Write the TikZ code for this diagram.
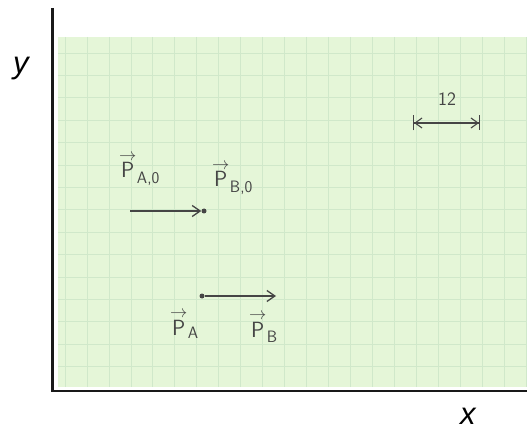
\documentclass[tikz,border=0pt]{standalone}
\usepackage{fontspec}
\newfontfamily\axisfont{Liberation Sans}
\usetikzlibrary{arrows.meta}
\definecolor{paper}{HTML}{E5F6D8}
\definecolor{gridc}{HTML}{D0E8CA}
\definecolor{pencil}{HTML}{454545}
\newcommand{\vecP}{$\stackrel{\mbox{\fontsize{19}{19}\selectfont$\rightarrow$}}{\raisebox{0pt}[21pt][0pt]{\textsf{P}}}$}
\newcommand{\subtxt}[2]{\hspace{0.5pt}\raisebox{#1}{\fontsize{16.5}{19}\selectfont #2}}
\tikzset{
  axisline/.style={line width=2.2pt,draw=black!90},
  axislabel/.style={font=\axisfont\itshape\fontsize{31}{34}\selectfont,inner sep=0pt,anchor=base west},
  vec/.style={line width=1.3pt,draw=pencil,-{Straight Barb[length=8pt,width=11pt,line width=1.3pt]}},
  scalebar/.style={line width=1.1pt,draw=pencil,{Bar[width=15pt,line width=1.1pt]Straight Barb[length=7pt,width=10pt,sep=0pt]}-{Straight Barb[length=7pt,width=10pt,sep=0pt]Bar[width=15pt,line width=1.1pt]}},
  dotnode/.style={circle,fill=pencil,inner sep=0pt,minimum size=5pt},
  hand/.style={text=pencil,inner sep=0pt,anchor=base west,font=\sffamily\fontsize{22}{26}\selectfont},
}
\begin{document}
\begin{tikzpicture}[x=1pt,y=-1pt]
\useasboundingbox (0,0) rectangle (527,430);
% graph paper
\fill[paper] (58,37) rectangle (527,387);
\begin{scope}
\clip (58,37) rectangle (527,387);
\foreach \i in {0,...,21} \draw[gridc,line width=0.7pt] ({65+21.95*\i},37) -- ({65+21.95*\i},387);
\foreach \j in {0,...,14} \draw[gridc,line width=0.7pt] (58,{53+22.4*\j}) -- (527,{53+22.4*\j});
\end{scope}
% axes
\coordinate (ytop) at (52.5,8);
\coordinate (orig) at (52.5,391);
\coordinate (xend) at (527,391);
\draw[axisline] (ytop) -- (orig) -- (xend);
\node[axislabel] (ylab) at (13,73.5) {y};
\node[axislabel] (xlab) at (460,424) {x};
% labels
\node[hand] (pa0) at (119,178) {\vecP\subtxt{-6pt}{A,0}};
\node[hand] (pb0) at (212,187) {\vecP\subtxt{-6pt}{B,0}};
\node[hand] (pa) at (170,335) {\vecP\subtxt{-3pt}{A}};
\node[hand] (pb) at (249,337) {\vecP\subtxt{-5pt}{B}};
% vectors
\node[dotnode] (d1) at (204,211) {};
\coordinate (s1) at (130,211);
\draw[vec] (s1) -- (d1);
\node[dotnode] (d2) at (202,296) {};
\coordinate (e2) at (276,296);
\draw[vec] (d2) -- (e2);
% scale bar
\coordinate (sb1) at (413,123);
\coordinate (sb2) at (480,123);
\draw[scalebar] (sb1) -- (sb2);
\node[text=pencil,font=\sffamily\fontsize{19}{22}\selectfont,inner sep=0pt] (twelve) at (447,99) {12};
\end{tikzpicture}
\end{document}
